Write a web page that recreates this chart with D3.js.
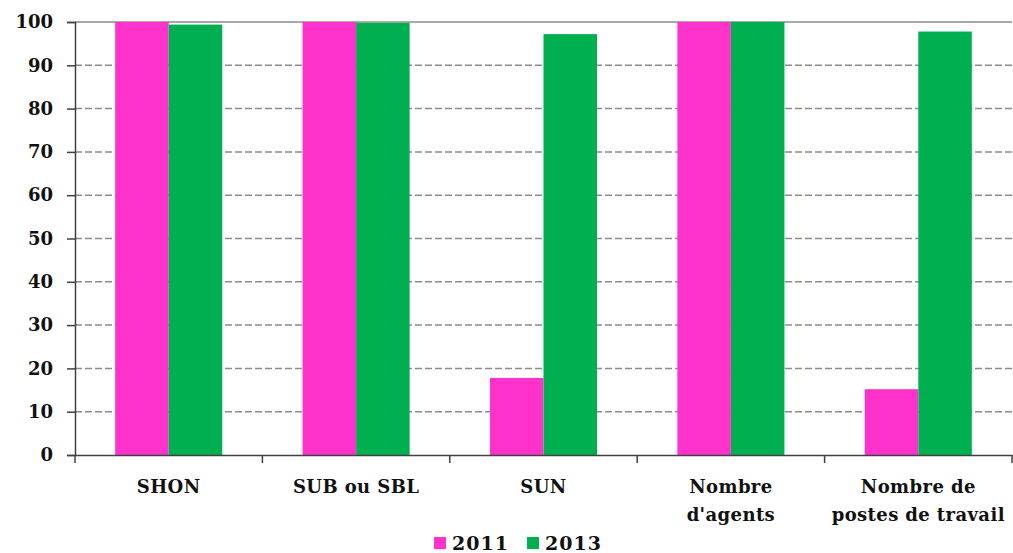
<!DOCTYPE html>
<html>
<head>
<meta charset="utf-8">
<script src="https://cdn.jsdelivr.net/npm/d3@7"></script>
<style>
  body { margin: 0; background: #fff; }
  text { font-family: "DejaVu Serif", serif; font-weight: bold; fill: #111; }
</style>
</head>
<body>
<div id="chart"></div>
<script>
// data
const categories = ["SHON", "SUB ou SBL", "SUN", "Nombre\nd'agents", "Nombre de\npostes de travail"];
const seriesNames = ["2011", "2013"];
const values2011 = [100, 100, 17.8, 100, 15.2];
const values2013 = [99.4, 99.8, 97.2, 100, 97.8];
const yTicks = [0, 10, 20, 30, 40, 50, 60, 70, 80, 90, 100];
const colors = ["#FF33CC", "#00B050"];

const width = 1013, height = 553;
const margin = { top: 22, right: 1, bottom: 98, left: 75 };

const svg = d3.select("#chart").append("svg")
  .attr("width", width)
  .attr("height", height);

const x = d3.scaleBand()
  .domain(categories)
  .range([margin.left, width - margin.right])
  .paddingInner(0)
  .paddingOuter(0);

const xInner = d3.scaleBand()
  .domain(seriesNames)
  .range([0, x.bandwidth()])
  .paddingInner(0)
  .paddingOuter(0.75);

const y = d3.scaleLinear()
  .domain([0, 100])
  .range([height - margin.bottom, margin.top]);

// gridlines
svg.append("g")
  .selectAll("line")
  .data(yTicks.filter(d => d > 0))
  .join("line")
    .attr("x1", margin.left)
    .attr("x2", width - margin.right)
    .attr("y1", d => y(d))
    .attr("y2", d => y(d))
    .attr("stroke", "#8c8c8c")
    .attr("stroke-width", 1.5)
    .attr("stroke-dasharray", d => d === 100 ? null : "7,3");

// bars
const rows = categories.map((c, i) => ({ cat: c, vals: [values2011[i], values2013[i]] }));
const groups = svg.append("g")
  .selectAll("g")
  .data(rows)
  .join("g")
    .attr("transform", d => `translate(${x(d.cat)},0)`);

groups.selectAll("rect")
  .data(d => d.vals.map((v, j) => ({ key: seriesNames[j], v, j })))
  .join("rect")
    .attr("x", d => xInner(d.key))
    .attr("width", xInner.bandwidth())
    .attr("y", d => y(d.v))
    .attr("height", d => y(0) - y(d.v))
    .attr("fill", d => colors[d.j]);

// y axis
const yAxis = svg.append("g")
  .attr("transform", `translate(${margin.left},0)`)
  .call(d3.axisLeft(y).tickValues(yTicks).tickSize(8).tickPadding(14));
yAxis.select(".domain").attr("stroke", "#404040").attr("stroke-width", 1.5);
yAxis.selectAll(".tick line").attr("stroke", "#404040").attr("stroke-width", 1.5);
yAxis.selectAll("text")
  .style("font-size", "18px")
  .attr("fill", "#111");

// x axis
const xAxis = svg.append("g")
  .attr("transform", `translate(0,${y(0)})`)
  .call(d3.axisBottom(x).tickSize(0).tickFormat(""));
xAxis.select(".domain").attr("stroke", "#404040").attr("stroke-width", 1.5);

// category separator ticks
const bounds = categories.map(c => x(c)).concat([x(categories[categories.length - 1]) + x.bandwidth()]);
xAxis.selectAll(".sep")
  .data(bounds)
  .join("line")
    .attr("class", "sep")
    .attr("x1", d => d).attr("x2", d => d)
    .attr("y1", 0).attr("y2", 8)
    .attr("stroke", "#404040")
    .attr("stroke-width", 1.5);

// category labels
const labels = svg.append("g")
  .selectAll("text")
  .data(categories)
  .join("text")
    .attr("x", d => x(d) + x.bandwidth() / 2)
    .attr("y", y(0) + 38)
    .attr("text-anchor", "middle")
    .style("font-size", "18px")
    .style("letter-spacing", "0.4px");
labels.each(function(d) {
  const parts = d.split("\n");
  d3.select(this).selectAll("tspan")
    .data(parts)
    .join("tspan")
      .attr("x", x(d) + x.bandwidth() / 2)
      .attr("dy", (p, i) => i === 0 ? 0 : 28)
      .text(p => p);
});

// legend
const legend = svg.append("g").attr("transform", `translate(434,${height - 3})`);
const legendItems = legend.selectAll("g")
  .data(seriesNames)
  .join("g")
    .attr("transform", (d, i) => `translate(${i * 93},0)`);
legendItems.append("rect")
  .attr("x", 0).attr("y", -13)
  .attr("width", 12).attr("height", 12)
  .attr("fill", (d, i) => colors[i]);
legendItems.append("text")
  .attr("x", 18).attr("y", 0)
  .style("font-size", "19px")
  .style("letter-spacing", "1px")
  .text(d => d);
</script>
</body>
</html>
